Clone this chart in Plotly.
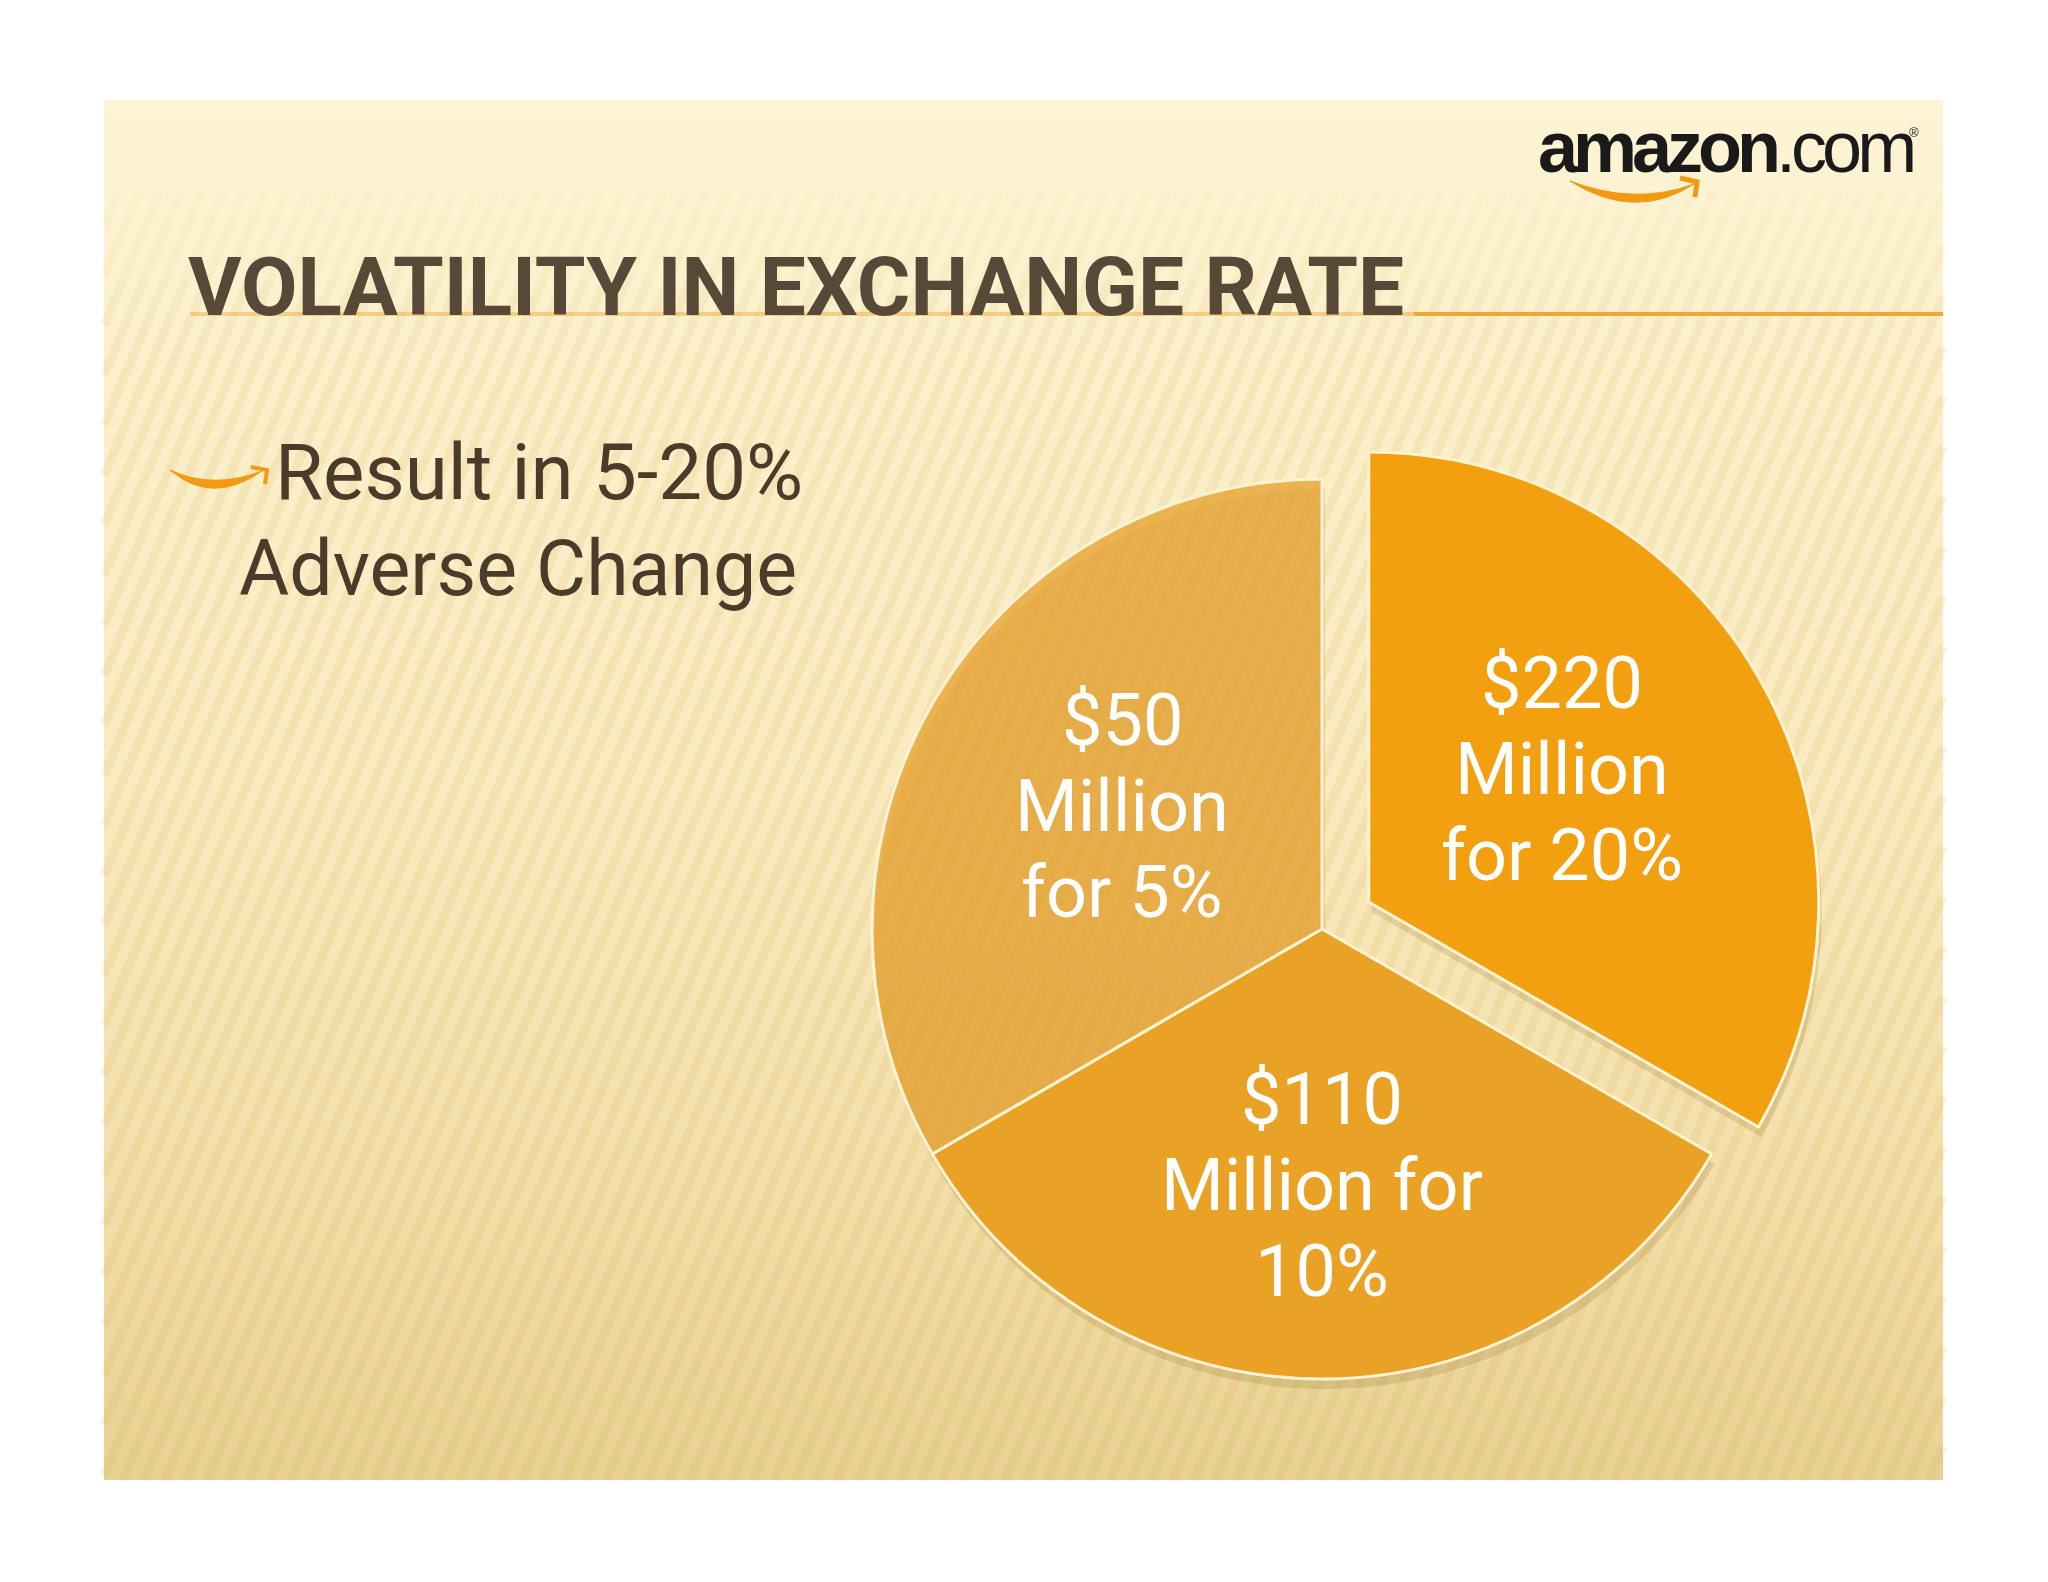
import math
import numpy as np
import plotly.graph_objects as go

# ---------------- data ----------------
amounts_musd = [220, 110, 50]            # $ million loss
adverse_change_pct = [20, 10, 5]         # % adverse change in exchange rate
slice_label_lines = [
    ["$220", "Million", "for 20%"],
    ["$110", "Million for", "10%"],
    ["$50", "Million", "for 5%"],
]
slice_weights = [1, 1, 1]                # the slide draws three equal segments
slice_pull = [0.12, 0.0, 0.0]
slice_colors = ["#F2A010", "#E9A126", "rgba(231,163,50,0.78)"]
title_text = "VOLATILITY IN EXCHANGE RATE"
bullet_lines = ["Result in 5-20%", "Adverse Change"]

# ---------------- geometry (page pixels) ----------------
OFF = 8                      # default body margin of the html page
FW, FH = 2040, 1574
SX0, SY0, SX1, SY1 = 104, 100, 1943, 1480
CX, CY, R = 1322, 929, 450
half = R * (1 + max(slice_pull))

def px(x):
    return (x - OFF) / FW

def py(y):
    return (OFF + FH - y) / FH

fig = go.Figure()

# slide background with vertical gradient
fig.add_trace(go.Scatter(
    x=[SX0, SX1, SX1, SX0, SX0], y=[SY0, SY0, SY1, SY1, SY0],
    mode="lines", line=dict(width=0), fill="toself",
    fillgradient=dict(type="vertical", start=SY0, stop=SY1,
                      colorscale=[[0, "#FDF4D5"], [0.15, "#FCF1CD"], [0.5, "#F9EABF"],
                                  [0.8, "#F2DEA8"], [1, "#E8D193"]]),
    hoverinfo="skip", showlegend=False))

# diagonal stripes, fading in towards the top
s = 0.42
def stripe_segments(y_hi, y_lo):
    xs, ys = [], []
    for xb in np.arange(SX0 - 800, SX1 + 5, 21):
        ya = y_lo if xb >= SX0 else SY1 - (SX0 - xb) / s
        ya = min(ya, y_lo)
        yb = max(y_hi, SY1 - (SX1 - xb) / s)
        if ya > yb:
            xs += [xb + (SY1 - ya) * s, xb + (SY1 - yb) * s, None]
            ys += [ya, yb, None]
    return xs, ys

bands = [(360, SY1, 0.14), (320, 360, 0.12), (280, 320, 0.10), (245, 280, 0.075),
         (215, 245, 0.05), (190, 215, 0.03)]
for y_hi, y_lo, a in bands:
    xs, ys = stripe_segments(y_hi, y_lo)
    fig.add_trace(go.Scatter(x=xs, y=ys, mode="lines",
                             line=dict(color=f"rgba(210,168,70,{a})", width=9),
                             hoverinfo="skip", showlegend=False))

# pie shadow
sh = 10
fig.add_trace(go.Pie(
    values=slice_weights, labels=[f"s{i}" for i in range(3)], sort=False,
    direction="clockwise", rotation=0, pull=slice_pull,
    marker=dict(colors=["rgba(120,85,15,0.16)"] * 3, line=dict(width=0)),
    textinfo="none", hoverinfo="skip", showlegend=False,
    domain=dict(x=[px(CX + 3 - half), px(CX + 3 + half)],
                y=[py(CY + sh + half), py(CY + sh - half)])))

# main pie
fig.add_trace(go.Pie(
    values=slice_weights,
    labels=[f"${a} Million for {p}%" for a, p in zip(amounts_musd, adverse_change_pct)],
    sort=False, direction="clockwise", rotation=0, pull=slice_pull,
    marker=dict(colors=slice_colors, line=dict(color="#FFF3D2", width=3)),
    textinfo="none", hoverinfo="label", showlegend=False,
    domain=dict(x=[px(CX - half), px(CX + half)],
                y=[py(CY + half), py(CY - half)])))

annotations = []
# slice labels placed near each slice bisector
label_frac = [0.52, 0.57, 0.52]
label_dtheta = [-4.5, 0.0, 1.5]
LS = 86
tot = sum(slice_weights)
cum = 0
for i, w in enumerate(slice_weights):
    th0 = math.radians(360 * (cum + w / 2) / tot)
    th = th0 + math.radians(label_dtheta[i])
    cum += w
    apx = CX + slice_pull[i] * R * math.sin(th0)
    apy = CY - slice_pull[i] * R * math.cos(th0)
    ax = apx + label_frac[i] * R * math.sin(th)
    ay = apy - label_frac[i] * R * math.cos(th)
    for j, line in enumerate(slice_label_lines[i]):
        annotations.append(dict(
            x=ax, y=ay + (j - 1) * LS, xref="x", yref="y", text=line,
            showarrow=False, xanchor="center", yanchor="middle",
            font=dict(family="Roboto", size=72, color="#FFFFFF")))

# title
annotations.append(dict(
    x=186, y=287, xref="x", yref="y", showarrow=False, xanchor="left", yanchor="middle",
    text=title_text,
    font=dict(family="Roboto", size=82, color="#584838", weight="bold")))
# bullet text
annotations.append(dict(
    x=273, y=472, xref="x", yref="y", showarrow=False, xanchor="left", yanchor="middle",
    text=bullet_lines[0], font=dict(family="Roboto", size=78, color="#4B3B2A")))
annotations.append(dict(
    x=237, y=569, xref="x", yref="y", showarrow=False, xanchor="left", yanchor="middle",
    text=bullet_lines[1], font=dict(family="Roboto", size=77, color="#4B3B2A")))
# logo
annotations.append(dict(
    x=1536, y=147, xref="x", yref="y", showarrow=False, xanchor="left", yanchor="middle",
    text="<span style='letter-spacing:-5px'><b>amazon</b>.com</span>",
    font=dict(family="Liberation Sans", size=72, color="#1A1A1A")))
annotations.append(dict(
    x=1914, y=132, xref="x", yref="y", showarrow=False, xanchor="center", yanchor="middle",
    text="®", font=dict(family="Liberation Sans", size=13, color="#1A1A1A")))

shapes = [
    # title rule (faint under the title, solid to its right)
    dict(type="line", xref="x", yref="y", x0=190, x1=1414, y0=314, y1=314,
         line=dict(color="rgba(240,165,53,0.45)", width=4), layer="above"),
    dict(type="line", xref="x", yref="y", x0=1414, x1=SX1, y0=314, y1=314,
         line=dict(color="#F0A535", width=4), layer="above"),
    # bullet smile
    dict(type="path", xref="x", yref="y",
         path="M 170 470 Q 212 506 262 471 Q 212 490 170 470 Z",
         fillcolor="#F29A12", line=dict(color="#F29A12", width=1), layer="above"),
    dict(type="path", xref="x", yref="y", path="M 251 467 L 267 470 L 265 484",
         line=dict(color="#F29A12", width=4), layer="above"),
    # logo smile
    dict(type="path", xref="x", yref="y",
         path="M 1570 181 Q 1635 222 1694 184 Q 1635 206 1570 181 Z",
         fillcolor="#F29A12", line=dict(color="#F29A12", width=1), layer="above"),
    dict(type="path", xref="x", yref="y", path="M 1680 178 L 1697 182 L 1695 197",
         line=dict(color="#F29A12", width=5), layer="above"),
]

fig.update_layout(
    width=FW, height=FH, margin=dict(l=0, r=0, t=0, b=0),
    paper_bgcolor="#FFFFFF", plot_bgcolor="rgba(0,0,0,0)",
    xaxis=dict(range=[OFF, OFF + FW], visible=False, fixedrange=True),
    yaxis=dict(range=[OFF + FH, OFF], visible=False, fixedrange=True),
    annotations=annotations, shapes=shapes, showlegend=False,
)

fig.write_html("out.html")
